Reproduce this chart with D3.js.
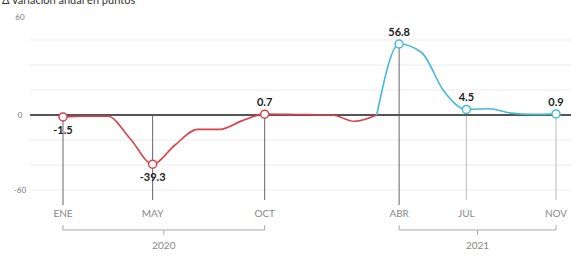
<!DOCTYPE html>
<html>
<head>
<meta charset="utf-8">
<script src="https://cdn.jsdelivr.net/npm/d3@7"></script>
<style>
  body { margin: 0; background: #fff; }
  svg { display: block; font-family: Lato, "Open Sans", sans-serif; }
</style>
</head>
<body>
<div id="chart"></div>
<script>
"use strict";

// month index 0 = ENE 2020
const redMonths = [0,1,2,3,4,5,6,7,8,9,10,11,12,13,14];
const redValues = [-1.5,-1,-1,-19,-39.3,-24,-11.5,-11.5,-4.5,0.7,0.5,0.3,0,-5,0];
const blueMonths = [14,15,16,17,18,19,20,21,22];
const blueValues = [0,56.8,50,19,4.5,5,1.5,0.5,0.9];

const markers = [
  {m: 0, v: -1.5, s: "red", label: "-1.5", pos: "below", tick: "ENE"},
  {m: 4, v: -39.3, s: "red", label: "-39.3", pos: "below", tick: "MAY"},
  {m: 9, v: 0.7, s: "red", label: "0.7", pos: "above", tick: "OCT"},
  {m: 15, v: 56.8, s: "blue", label: "56.8", pos: "above", tick: "ABR"},
  {m: 18, v: 4.5, s: "blue", label: "4.5", pos: "above", tick: "JUL"},
  {m: 22, v: 0.9, s: "blue", label: "0.9", pos: "above", tick: "NOV"}
];
const yTicks = [60, 0, -60];
const gridValues = [60, 40, 20, -20, -40, -60];
const years = [{label: "2020", from: 0, to: 9}, {label: "2021", from: 15, to: 22}];

const width = 571, height = 256;
const colors = {red: "#d9414b", blue: "#45b9da"};

const x = d3.scaleLinear().domain([0, 22]).range([63, 556]);
const y = d3.scaleLinear().domain([-60, 60]).range([190, 40]);

const svg = d3.select("#chart").append("svg")
  .attr("width", width).attr("height", height);

// title cut off at top
svg.append("text")
  .attr("x", 2).attr("y", 4)
  .attr("font-size", 11).attr("fill", "#333")
  .text("Δ variación anual en puntos");

// grid
svg.append("g").selectAll("line")
  .data(gridValues)
  .join("line")
    .attr("x1", 30).attr("x2", width)
    .attr("y1", d => y(d)).attr("y2", d => y(d))
    .attr("stroke", "#ececec").attr("stroke-width", 1);

// y labels
svg.append("g").selectAll("text")
  .data(yTicks)
  .join("text")
    .attr("x", 20)
    .attr("y", d => d === 60 ? y(d) - 20 : y(d) + 3)
    .attr("text-anchor", "middle")
    .attr("font-size", 8).attr("fill", "#777")
    .text(d => d);

// vertical drop lines
svg.append("g").selectAll("line")
  .data(markers)
  .join("line")
    .attr("x1", d => x(d.m)).attr("x2", d => x(d.m))
    .attr("y1", d => y(Math.max(d.v, 0)))
    .attr("y2", d => d.m === 0 || d.m === 15 ? 205 : 200)
    .attr("stroke", d => d.m >= 18 ? "#bbb" : "#666")
    .attr("stroke-width", 1);

// zero line
svg.append("line")
  .attr("x1", 30).attr("x2", width)
  .attr("y1", y(0)).attr("y2", y(0))
  .attr("stroke", "#555").attr("stroke-width", 2);

const line = d3.line()
  .x(d => x(d[0])).y(d => y(d[1]))
  .curve(d3.curveMonotoneX);

svg.append("path")
  .datum(d3.zip(redMonths, redValues))
  .attr("d", line)
  .attr("fill", "none").attr("stroke", colors.red).attr("stroke-width", 1.6);

svg.append("path")
  .datum(d3.zip(blueMonths, blueValues))
  .attr("d", line)
  .attr("fill", "none").attr("stroke", colors.blue).attr("stroke-width", 1.6);

// markers
svg.append("g").selectAll("circle")
  .data(markers)
  .join("circle")
    .attr("cx", d => x(d.m)).attr("cy", d => y(d.v))
    .attr("r", 4)
    .attr("fill", "#fff")
    .attr("stroke", d => colors[d.s]).attr("stroke-width", 1.5);

// value labels
svg.append("g").selectAll("text")
  .data(markers)
  .join("text")
    .attr("x", d => x(d.m))
    .attr("y", d => d.pos === "below" ? y(d.v) + 17 : y(d.v) - 8)
    .attr("text-anchor", "middle")
    .attr("font-size", 11).attr("font-weight", "bold").attr("fill", "#222")
    .text(d => d.label);

// month labels
svg.append("g").selectAll("text")
  .data(markers)
  .join("text")
    .attr("x", d => x(d.m)).attr("y", 217)
    .attr("text-anchor", "middle")
    .attr("font-size", 10).attr("fill", "#888")
    .text(d => d.tick);

// year brackets
const yr = svg.append("g").selectAll("g")
  .data(years)
  .join("g");

yr.append("path")
  .attr("d", d => {
    const a = x(d.from), b = x(d.to), c = (a + b) / 2;
    return `M${a},225V230H${b}V225M${c},230V235`;
  })
  .attr("fill", "none").attr("stroke", "#aaa").attr("stroke-width", 1);

yr.append("text")
  .attr("x", d => (x(d.from) + x(d.to)) / 2).attr("y", 249)
  .attr("text-anchor", "middle")
  .attr("font-size", 10).attr("fill", "#888")
  .text(d => d.label);
</script>
</body>
</html>
